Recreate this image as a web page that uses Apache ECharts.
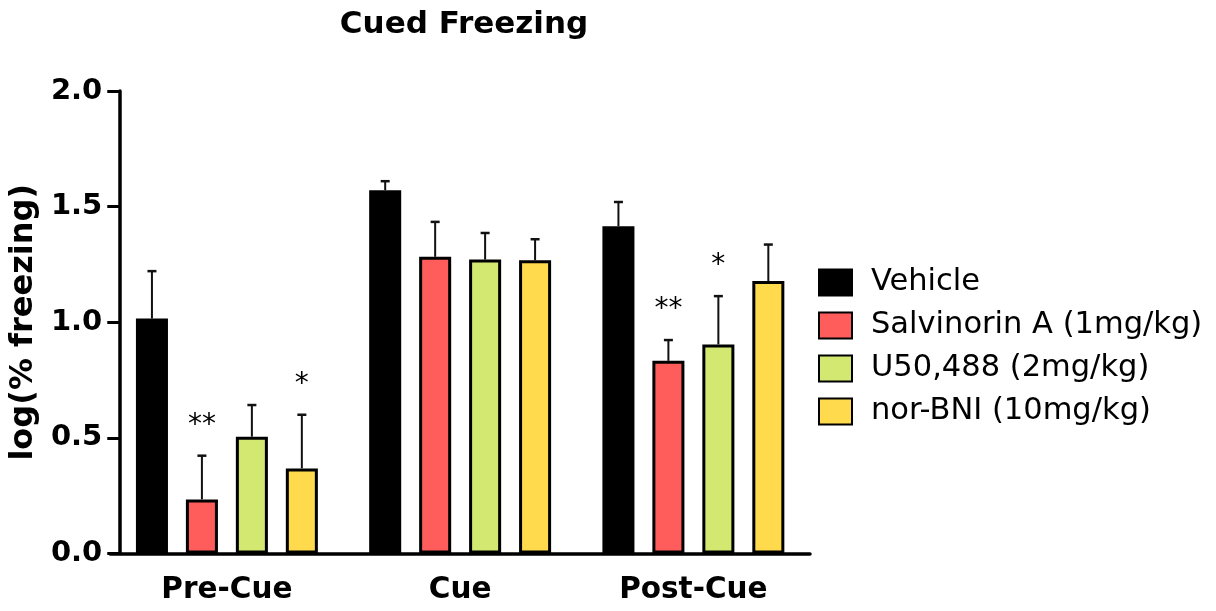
<!DOCTYPE html>
<html><head><meta charset="utf-8">
<script src="https://cdn.jsdelivr.net/npm/echarts@6/dist/echarts.min.js"></script>
<style>html,body{margin:0;padding:0;background:#fff}#c{width:1216px;height:611px}</style>
</head><body><div id="c"></div>
<script>
const categories = ['Pre-Cue', 'Cue', 'Post-Cue'];
const seriesNames = ['Vehicle', 'Salvinorin A (1mg/kg)', 'U50,488 (2mg/kg)', 'nor-BNI (10mg/kg)'];
const vehicleMean = [1.016, 1.571, 1.415];
const vehicleErr  = [0.205, 0.039, 0.105];
const salvMean    = [0.234, 1.283, 0.833];
const salvErr     = [0.189, 0.151, 0.090];
const u50Mean     = [0.505, 1.271, 0.904];
const u50Err      = [0.137, 0.115, 0.209];
const norMean     = [0.368, 1.268, 1.178];
const norErr      = [0.232, 0.091, 0.158];
const vehicleSig  = ['', '', ''];
const salvSig     = ['**', '', '**'];
const u50Sig      = ['', '', '*'];
const norSig      = ['*', '', ''];
const yTicks = [0, 0.5, 1.0, 1.5, 2.0];

const colors = ['#000000', '#FF5C5C', '#D2E871', '#FFDA4C'];
const means = [vehicleMean, salvMean, u50Mean, norMean];
const errs = [vehicleErr, salvErr, u50Err, norErr];
const sigs = [vehicleSig, salvSig, u50Sig, norSig];
const FONT = '"DejaVu Sans", sans-serif';
const CAT_GAP = 0.22, BAR_GAP = 0.56, N = 4;

const series = [];
means.forEach((m, s) => {
  series.push({
    name: seriesNames[s], type: 'bar', data: m,
    barGap: (BAR_GAP * 100) + '%', barCategoryGap: (CAT_GAP * 100) + '%',
    itemStyle: { color: colors[s], borderColor: '#000', borderWidth: 3 },
    z: 2
  });
});
means.forEach((m, s) => {
  series.push({
    type: 'custom', name: seriesNames[s] + ' err', z: 5,
    data: m.map((v, i) => [i, v, errs[s][i]]),
    renderItem: function (params, api) {
      const ci = api.value(0), mean = api.value(1), e = api.value(2);
      const sig = sigs[s][ci];
      const band = api.size([1, 0])[0];
      const used = band * (1 - CAT_GAP);
      const bw = used / (N + (N - 1) * BAR_GAP);
      const base = api.coord([ci, mean]);
      const top = api.coord([ci, mean + e]);
      const x = base[0] - used / 2 + s * bw * (1 + BAR_GAP) + bw / 2;
      const children = [
        { type: 'line', shape: { x1: x, y1: base[1], x2: x, y2: top[1] }, style: { stroke: '#111', lineWidth: 2 } },
        { type: 'line', shape: { x1: x - 4.5, y1: top[1], x2: x + 4.5, y2: top[1] }, style: { stroke: '#111', lineWidth: 2.5 } }
      ];
      if (sig) {
        children.push({ type: 'text', style: { text: sig, x: x, y: top[1] - 30, align: 'center', verticalAlign: 'middle', font: '28px ' + FONT, fill: '#000' } });
      }
      return { type: 'group', children: children };
    },
    silent: true
  });
});

const chart = echarts.init(document.getElementById('c'));
chart.setOption({
  animation: false,
  backgroundColor: '#fff',
  title: { text: 'Cued Freezing', left: 459, top: 4, textAlign: 'center',
    textStyle: { fontFamily: FONT, fontWeight: 'bold', fontSize: 31, color: '#000' } },
  legend: {
    orient: 'vertical', left: 813, top: 262, itemWidth: 33, itemHeight: 26, itemGap: 12, icon: 'rect',
    data: seriesNames,
    textStyle: { fontFamily: FONT, fontSize: 30.5, color: '#000', padding: [0, 0, 0, 14] }
  },
  grid: { left: 109, right: 406, top: 91, bottom: 57.5 },
  xAxis: {
    type: 'category', data: categories,
    axisLine: { lineStyle: { color: '#000', width: 3.5 } },
    axisTick: { alignWithLabel: true, length: 13, lineStyle: { color: '#000', width: 3 } },
    axisLabel: { fontFamily: FONT, fontWeight: 'bold', fontSize: 29.5, color: '#000', margin: 22 }
  },
  yAxis: {
    type: 'value', min: 0, max: 2, interval: 0.5, offset: -9,
    name: 'log(% freezing)', nameLocation: 'middle', nameGap: 70, nameRotate: 90,
    nameTextStyle: { fontFamily: FONT, fontWeight: 'bold', fontSize: 32, color: '#000' },
    axisLine: { show: true, lineStyle: { color: '#000', width: 3.5 } },
    axisTick: { show: true, length: 12, lineStyle: { color: '#000', width: 3 } },
    splitLine: { show: false },
    axisLabel: { fontFamily: FONT, fontWeight: 'bold', fontSize: 29, color: '#000', margin: 17,
      formatter: v => yTicks.includes(v) ? v.toFixed(1) : '' }
  },
  series: series
});
</script></body></html>
